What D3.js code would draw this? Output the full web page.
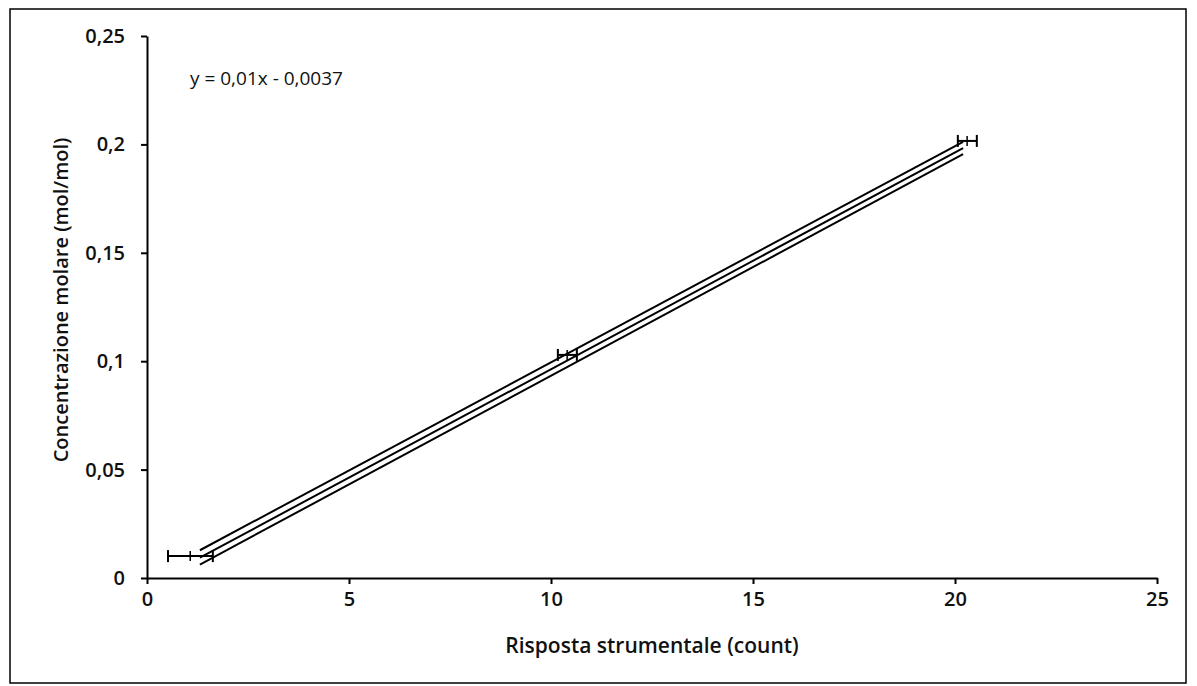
<!DOCTYPE html>
<html>
<head>
<meta charset="utf-8">
<script src="https://cdn.jsdelivr.net/npm/d3@7"></script>
<style>
  body { margin: 0; background: #fff; }
  text { font-family: "Open Sans", Lato, sans-serif; fill: #111; }
  .axis path, .axis line { stroke: #000; stroke-width: 2; }
  .axis text { font-size: 20px; font-weight: 600; }
</style>
</head>
<body>
<script>
// data
var xTicks = [0, 5, 10, 15, 20, 25];
var yTicks = [0, 0.05, 0.1, 0.15, 0.2, 0.25];

var pointX = [1.07, 10.4, 20.3];
var pointY = [0.0101, 0.1029, 0.2016];
var errXLow = [0.52, 10.17, 20.07];
var errXHigh = [1.63, 10.64, 20.54];

var lineX = [1.31, 20.2];
var fitY = [0.0094, 0.1983];
var upperY = [0.0128, 0.2012];
var lowerY = [0.0062, 0.1955];

var equation = "y = 0,01x - 0,0037";

var W = 1197, H = 686;
var margin = {top: 36, right: 40, bottom: 108, left: 147};

var svg = d3.select("body").append("svg")
    .attr("width", W)
    .attr("height", H);

// chart frame
svg.append("rect")
    .attr("x", 10).attr("y", 9)
    .attr("width", 1176).attr("height", 674)
    .attr("fill", "none")
    .attr("stroke", "#000")
    .attr("stroke-width", 1.5);

var x = d3.scaleLinear().domain([0, 25]).range([margin.left, 1157]);
var y = d3.scaleLinear().domain([0, 0.25]).range([578, margin.top]);

var fmt = function(d) { return String(d).replace(".", ","); };

svg.append("g")
    .attr("class", "x axis")
    .attr("transform", "translate(0," + y(0) + ")")
    .call(d3.axisBottom(x).tickValues(xTicks).tickFormat(fmt).tickSize(6).tickSizeOuter(0).tickPadding(8));

svg.append("g")
    .attr("class", "y axis")
    .attr("transform", "translate(" + x(0) + ",0)")
    .call(d3.axisLeft(y).tickValues(yTicks).tickFormat(fmt).tickSize(6).tickSizeOuter(0).tickPadding(16));

// regression line and band
var line = d3.line()
    .x(function(d) { return x(d[0]); })
    .y(function(d) { return y(d[1]); });

[upperY, fitY, lowerY].forEach(function(ys) {
  svg.append("path")
      .datum(lineX.map(function(v, i) { return [v, ys[i]]; }))
      .attr("d", line)
      .attr("fill", "none")
      .attr("stroke", "#000")
      .attr("stroke-width", 2);
});

// horizontal error bars
var bars = svg.selectAll(".err")
    .data(pointX.map(function(v, i) { return i; }))
  .enter().append("g")
    .attr("class", "err");

bars.append("line")
    .attr("x1", function(i) { return x(errXLow[i]); })
    .attr("x2", function(i) { return x(errXHigh[i]); })
    .attr("y1", function(i) { return y(pointY[i]); })
    .attr("y2", function(i) { return y(pointY[i]); })
    .attr("stroke", "#000").attr("stroke-width", 2);

[errXLow, errXHigh].forEach(function(arr) {
  bars.append("line")
      .attr("x1", function(i) { return x(arr[i]); })
      .attr("x2", function(i) { return x(arr[i]); })
      .attr("y1", function(i) { return y(pointY[i]) - 6; })
      .attr("y2", function(i) { return y(pointY[i]) + 6; })
      .attr("stroke", "#000").attr("stroke-width", 2);
});

// small vertical error bars
bars.append("line")
    .attr("x1", function(i) { return x(pointX[i]); })
    .attr("x2", function(i) { return x(pointX[i]); })
    .attr("y1", function(i) { return y(pointY[i]) - 5; })
    .attr("y2", function(i) { return y(pointY[i]) + 5; })
    .attr("stroke", "#000").attr("stroke-width", 1.5);

// texts
svg.append("text")
    .attr("x", 190).attr("y", 85)
    .style("font-size", "19px")
    .text(equation);

svg.append("text")
    .attr("x", 652).attr("y", 653)
    .attr("text-anchor", "middle")
    .style("font-size", "21px")
    .style("font-weight", 600)
    .text("Risposta strumentale (count)");

svg.append("text")
    .attr("transform", "translate(68,300) rotate(-90)")
    .attr("text-anchor", "middle")
    .style("font-size", "20px")
    .style("font-weight", 600)
    .text("Concentrazione molare (mol/mol)");
</script>
</body>
</html>
